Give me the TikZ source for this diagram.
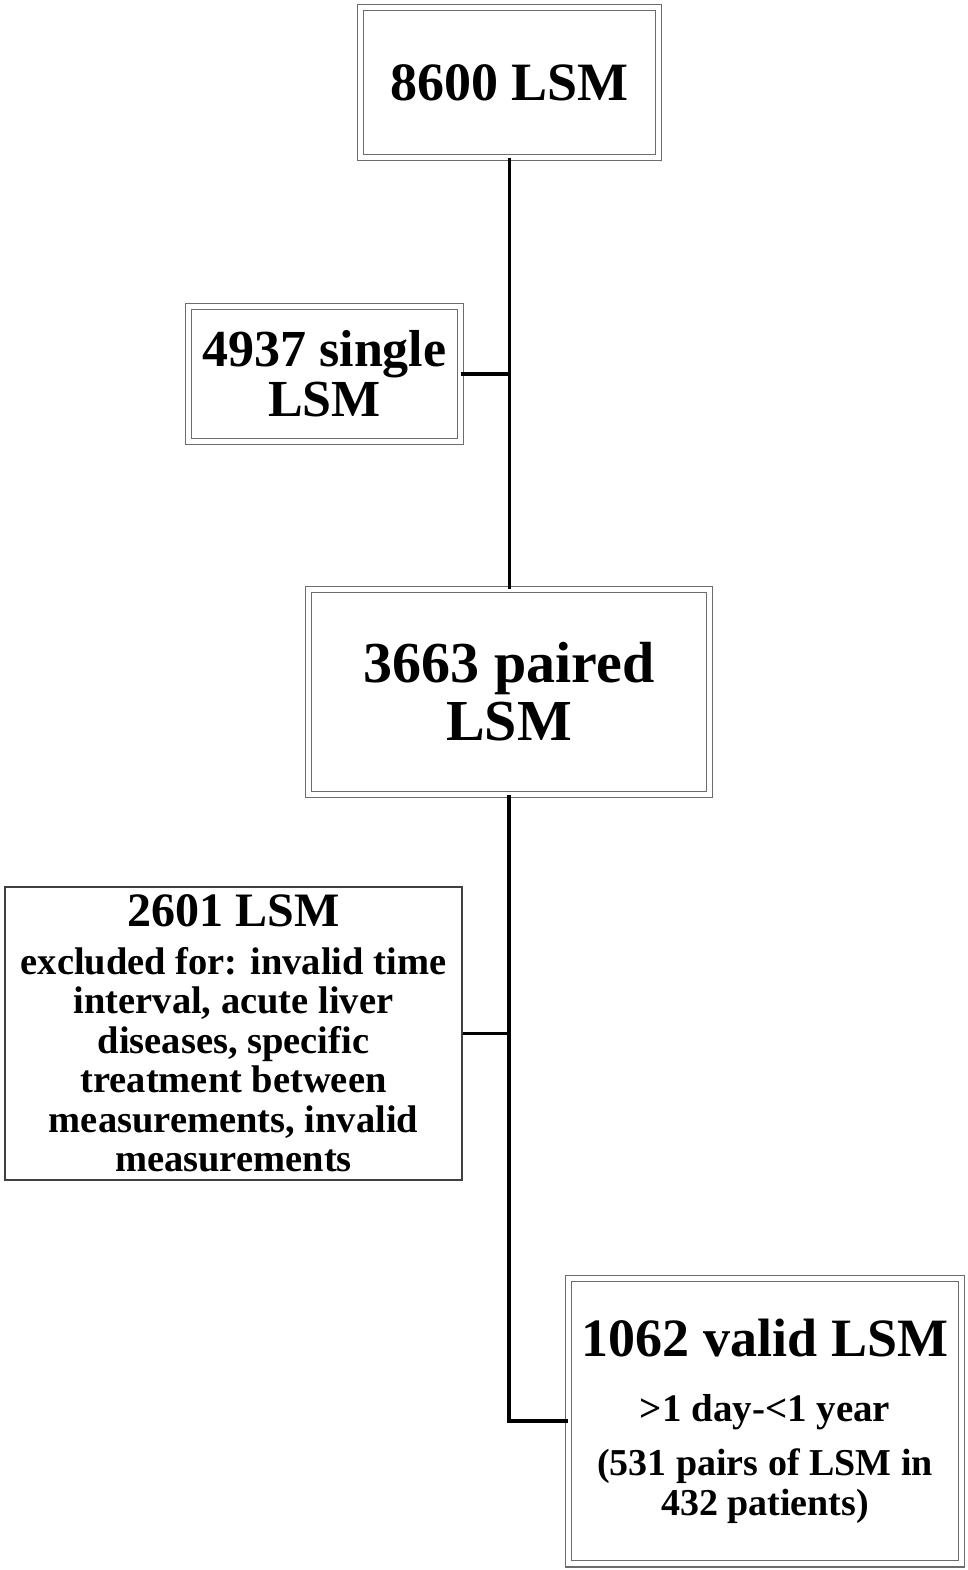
\documentclass[tikz,border=0pt]{standalone}
\usepackage{fontspec}
\setmainfont{Liberation Serif}
\newcommand{\fs}[2]{\fontsize{#1}{#2}\selectfont\spaceskip=0pt\xspaceskip=0pt\relax}
\begin{document}
\begin{tikzpicture}[x=1pt,y=-1pt,
  dbox/.style={draw=gray!85!black, line width=1.2pt, double=white, double distance=5pt,
    inner sep=0pt, font=\bfseries, rectangle},
  sbox/.style={draw=black!75, line width=1.6pt, inner sep=0pt, font=\bfseries, rectangle},
  link/.style={line width=3.5pt, black}]
\useasboundingbox[fill=white] (0,0) rectangle (968,1570);

\node[dbox, minimum width=297.6pt, minimum height=149.6pt] (b1) at (509.5,82.5)
  {\fs{54}{60}8600 LSM};

\node[dbox, minimum width=271.6pt, minimum height=134.6pt, text width=268pt] (b2) at (324.5,374)
  {\centering\fs{52}{50}4937 single\\LSM\par};

\node[dbox, minimum width=400.6pt, minimum height=204.6pt, text width=395pt] (b3) at (509,692)
  {\centering\fs{58}{58}3663 paired\\LSM\par};

\node[sbox, minimum width=457pt, minimum height=293pt, text width=455pt] (b4) at (233.5,1033.5)
  {\centering{\fs{48}{56}2601 LSM\par}\vspace{8pt}%
   {\fs{38.5}{39.5}excluded for: invalid time\\ interval, acute liver\\ diseases, specific\\ treatment between\\ measurements, invalid\\ measurements\par}};

\node[dbox, minimum width=392.6pt, minimum height=285.6pt, text width=390pt] (b5) at (765,1421)
  {\centering{\fs{54}{60}1062 valid LSM\par}\vspace{10pt}%
   {\fs{39}{55}>1 day-<1 year\par}\vspace{14pt}%
   {\fs{38}{40}(531 pairs of LSM in\\ 432 patients)\par}};

\draw[link] (b1.south) -- (b1.south |- b3.north);
\draw[link] (b2.east) -- (b2.east -| b1.south);
\draw[link] (b3.south) |- (b5.west);
\draw[link] (b4.east) -- (b4.east -| b3.south);
\end{tikzpicture}
\end{document}
